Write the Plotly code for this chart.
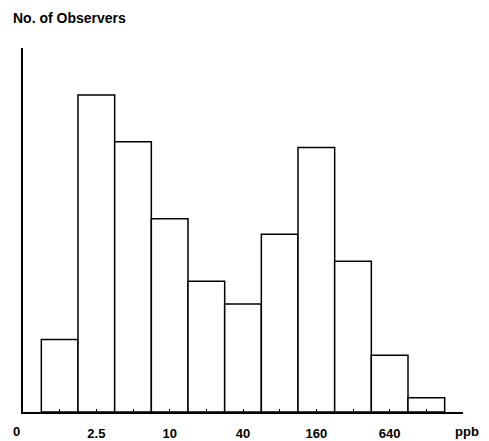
import plotly.graph_objects as go

# Concentration classes (bar index) and observer counts (arbitrary units)
bins = list(range(1, 12))
observers = [5.1, 22.3, 19.0, 13.6, 9.2, 7.6, 12.5, 18.6, 10.6, 4.0, 1.0]
tick_labels = ["", "2.5", "", "10", "", "40", "", "160", "", "640", ""]

FONT = "Liberation Sans, Arial, sans-serif"
W, H = 489, 441
L, R, T, B = 23, 26, 48, 29
PW = W - L - R

fig = go.Figure(
    go.Bar(
        x=bins,
        y=observers,
        width=1,
        marker=dict(color="white", line=dict(color="black", width=1.5)),
        hoverinfo="skip",
    )
)

fig.update_layout(
    width=W,
    height=H,
    margin=dict(l=L, r=R, t=T, b=B, autoexpand=False),
    paper_bgcolor="white",
    plot_bgcolor="white",
    showlegend=False,
    font=dict(family=FONT, color="black"),
    title=dict(
        text="<b>No. of Observers</b>",
        x=13 / W,
        xanchor="left",
        xref="container",
        y=1 - 18.5 / H,
        yanchor="middle",
        yref="container",
        font=dict(size=14, family=FONT, color="black"),
    ),
    xaxis=dict(
        range=[0, 12],
        automargin=False,
        showline=True,
        linecolor="black",
        linewidth=1.5,
        showgrid=False,
        zeroline=False,
        tickmode="array",
        tickvals=bins,
        ticktext=[f"<b>{t}</b>" if t else "" for t in tick_labels],
        ticks="inside",
        ticklen=3,
        tickwidth=1,
        tickcolor="black",
        tickfont=dict(size=13, family=FONT, color="black"),
        ticklabelstandoff=9,
    ),
    yaxis=dict(
        range=[0, 25.6],
        automargin=False,
        showline=True,
        linecolor="black",
        linewidth=1.5,
        showgrid=False,
        zeroline=False,
        showticklabels=False,
        ticks="",
    ),
    annotations=[
        dict(text="<b>0</b>", x=(16.5 - L) / PW, xref="paper", y=0, yref="paper",
             xanchor="center", yanchor="middle", yshift=-19, showarrow=False,
             font=dict(size=13, family=FONT, color="black")),
        dict(text="<b>ppb</b>", x=(466.5 - L) / PW, xref="paper", y=0, yref="paper",
             xanchor="center", yanchor="middle", yshift=-19, showarrow=False,
             font=dict(size=13, family=FONT, color="black")),
    ],
)

fig.write_html(
    "out.html",
    config={"displayModeBar": False},
    post_script="document.body.style.margin='0';",
)
